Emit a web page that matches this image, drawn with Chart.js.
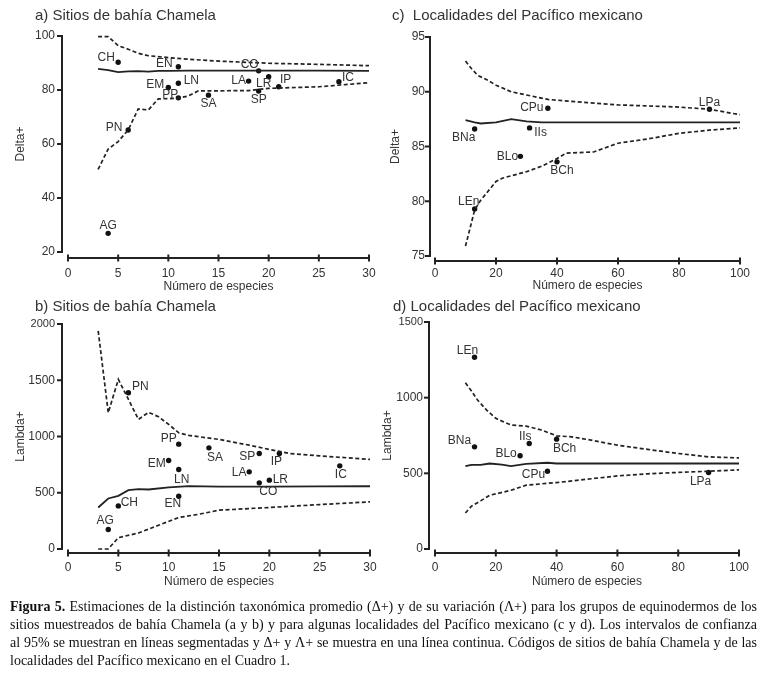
<!DOCTYPE html>
<html>
<head>
<meta charset="utf-8">
<script src="https://cdn.jsdelivr.net/npm/chart.js@4.4.1/dist/chart.umd.min.js"></script>
<style>
html,body{margin:0;padding:0;background:#fff;width:761px;height:680px;overflow:hidden;}
.panel{position:absolute;}
#caption{position:absolute;left:10px;top:598px;width:747px;font-family:"Liberation Serif","Times New Roman",serif;font-size:14px;line-height:18px;color:#111;}
#caption span{display:block;white-space:nowrap;text-align:justify;text-align-last:justify;}
#caption span.last{text-align:left;text-align-last:left;}
</style>
</head>
<body>
<div class="panel" style="left:0;top:0"><canvas id="ca" width="380" height="300"></canvas></div>
<div class="panel" style="left:380px;top:0"><canvas id="cc" width="381" height="300"></canvas></div>
<div class="panel" style="left:0;top:290px"><canvas id="cb" width="380" height="310"></canvas></div>
<div class="panel" style="left:380px;top:290px"><canvas id="cd" width="381" height="310"></canvas></div>
<div id="caption"><span><b>Figura 5.</b> Estimaciones de la distinción taxonómica promedio (Δ+) y de su variación (Λ+) para los grupos de equinodermos de los</span><span>sitios muestreados de bahía Chamela (a y b) y para algunas localidades del Pacífico mexicano (c y d). Los intervalos de confianza</span><span>al 95% se muestran en líneas segmentadas y Δ+ y Λ+ se muestra en una línea continua. Códigos de sitios de bahía Chamela y de las</span><span class="last">localidades del Pacífico mexicano en el Cuadro 1.</span></div>
<script>
// ---------- Panel a: Delta+ , sitios de bahía Chamela ----------
const sitesA   = ['CH','EN','CO','EM','LN','PP','SA','LA','LR','SP','IP','IC','PN','AG'];
const speciesA = [5, 11, 19, 10, 11, 11, 14, 18, 20, 19, 21, 27, 6, 4];
const deltaA   = [90.3, 88.6, 87.1, 80.9, 82.5, 77.1, 78.1, 83.3, 84.9, 79.6, 81.2, 83.1, 65.2, 26.9];
const meanXA   = [3, 4, 5, 6, 7, 8, 9, 10, 12, 15, 20, 25, 30];
const meanYA   = [87.8, 87.4, 86.6, 86.9, 87.0, 86.8, 87.1, 87.1, 87.2, 87.2, 87.2, 87.2, 87.1];
const upXA     = [3, 4, 5, 6, 7, 8, 10, 12, 15, 20, 25, 30];
const upYA     = [99.8, 99.8, 96.4, 95.1, 93.6, 92.7, 92.0, 91.4, 90.7, 89.9, 89.5, 89.0];
const loXA     = [3, 4, 5, 6, 7, 8, 9, 10, 11, 12, 13, 15, 18, 20, 25, 30];
const loYA     = [50.6, 58.1, 60.9, 65.2, 73.0, 72.6, 76.7, 76.8, 77.0, 77.8, 79.7, 79.7, 79.8, 80.6, 81.2, 82.7];
const xTicksA  = [0, 5, 10, 15, 20, 25, 30];
const yTicksA  = [20, 40, 60, 80, 100];

// ---------- Panel b: Lambda+ , sitios de bahía Chamela ----------
const sitesB   = ['PN','PP','SA','SP','IP','EM','LN','LA','LR','CO','IC','EN','CH','AG'];
const speciesB = [6, 11, 14, 19, 21, 10, 11, 18, 20, 19, 27, 11, 5, 4];
const lambdaB  = [1389, 932, 899, 849, 849, 787, 707, 686, 612, 588, 739, 469, 383, 173];
const meanXB   = [3, 4, 5, 6, 7, 8, 10, 12, 15, 20, 25, 30];
const meanYB   = [369, 449, 472, 523, 532, 529, 547, 558, 555, 555, 556, 558];
const upXB     = [3, 4, 5, 7, 8, 9, 10, 11, 12, 15, 18, 20, 22, 25, 30];
const upYB     = [1939, 1211, 1508, 1152, 1215, 1175, 1108, 1033, 1010, 974, 923, 885, 849, 828, 796];
const loXB     = [3, 4, 5, 7, 9, 11, 13, 15, 20, 25, 30];
const loYB     = [0, 0, 101, 142, 211, 280, 309, 345, 369, 395, 419];
const xTicksB  = [0, 5, 10, 15, 20, 25, 30];
const yTicksB  = [0, 500, 1000, 1500, 2000];

// ---------- Panel c: Delta+ , localidades del Pacífico mexicano ----------
const sitesC   = ['LPa','CPu','BNa','IIs','BLo','BCh','LEn'];
const speciesC = [90, 37, 13, 31, 28, 40, 13];
const deltaC   = [88.4, 88.5, 86.6, 86.7, 84.1, 83.6, 79.3];
const meanXC   = [10, 13, 15, 20, 25, 30, 35, 40, 60, 80, 100];
const meanYC   = [87.4, 87.2, 87.1, 87.2, 87.5, 87.3, 87.2, 87.2, 87.2, 87.2, 87.2];
const upXC     = [10, 12, 14, 17, 20, 25, 30, 37, 50, 60, 80, 90, 100];
const upYC     = [92.8, 92.1, 91.5, 91.1, 90.6, 90.0, 89.7, 89.3, 89.0, 88.8, 88.6, 88.4, 87.9];
const loXC     = [10, 13, 15, 20, 22, 30, 35, 40, 43, 52, 60, 70, 80, 90, 100];
const loYC     = [75.9, 79.2, 80.1, 81.8, 82.1, 82.7, 83.2, 83.9, 84.4, 84.5, 85.3, 85.7, 86.2, 86.5, 86.7];
const xTicksC  = [0, 20, 40, 60, 80, 100];
const yTicksC  = [75, 80, 85, 90, 95];

// ---------- Panel d: Lambda+ , localidades del Pacífico mexicano ----------
const sitesD   = ['LEn','BNa','IIs','BLo','BCh','CPu','LPa'];
const speciesD = [13, 13, 31, 28, 40, 37, 90];
const lambdaD  = [1267, 675, 697, 616, 726, 514, 506];
const meanXD   = [10, 12, 15, 18, 22, 25, 30, 37, 40, 60, 100];
const meanYD   = [547, 556, 556, 565, 558, 548, 562, 570, 565, 565, 565];
const upXD     = [10, 12, 14, 17, 20, 25, 30, 35, 40, 45, 50, 60, 70, 80, 90, 100];
const upYD     = [1099, 1044, 984, 918, 863, 819, 812, 786, 748, 741, 724, 686, 658, 631, 609, 602];
const loXD     = [10, 12, 15, 18, 25, 30, 40, 50, 60, 70, 80, 90, 100];
const loYD     = [238, 283, 318, 355, 388, 422, 439, 461, 483, 497, 506, 514, 523];
const xTicksD  = [0, 20, 40, 60, 80, 100];
const yTicksD  = [0, 500, 1000, 1500];

// ---------- label placement (style, pixel offsets from each dot) ----------
const labelOffA = [[-12,-5],[-14,-3],[-9,-6],[-13,-3],[13,-3],[-8,-3],[0,9],[-10,0],[-5,7],[0,9],[7,-7],[9,-4],[-14,-2],[0,-8]];
const labelOffB = [[12,-6],[-10,-5],[6,10],[-12,3],[-3,8],[-12,3],[3,10],[-10,1],[11,0],[9,9],[1,9],[-6,7],[11,-3],[-3,-9]];
const labelOffC = [[0,-7],[-16,0],[-11,9],[11,5],[-13,0],[5,9],[-6,-7]];
const labelOffD = [[-7,-7],[-15,-6],[-4,-7],[-14,-2],[8,10],[-14,3],[-8,9]];

const FONT = '"Liberation Sans", Arial, Helvetica, sans-serif';
const INK = '#222';
const TXT = '#333';

const zip = (xs, ys) => xs.map((v, i) => ({x: v, y: ys[i]}));

const panelPlugin = {
  id: 'panelDecor',
  afterDraw(chart, args, o) {
    const {ctx, chartArea, scales} = chart;
    const x = scales.x, y = scales.y;
    const ax = chartArea.left - o.yGap;
    const ay = chartArea.bottom + o.xGap;
    ctx.save();
    ctx.strokeStyle = INK;
    ctx.lineWidth = 2;
    ctx.lineCap = 'butt';
    // y axis
    ctx.beginPath();
    ctx.moveTo(ax, y.getPixelForValue(y.max) - 1);
    ctx.lineTo(ax, y.getPixelForValue(y.min) + 1);
    ctx.stroke();
    y.ticks.forEach(t => {
      const py = y.getPixelForValue(t.value);
      ctx.beginPath(); ctx.moveTo(ax - 5, py); ctx.lineTo(ax, py); ctx.stroke();
    });
    // x axis
    ctx.beginPath();
    ctx.moveTo(x.getPixelForValue(x.min), ay);
    ctx.lineTo(x.getPixelForValue(x.max), ay);
    ctx.stroke();
    x.ticks.forEach(t => {
      const px = x.getPixelForValue(t.value);
      ctx.beginPath(); ctx.moveTo(px, ay - 3.5); ctx.lineTo(px, ay + 3.5); ctx.stroke();
    });
    // panel title
    ctx.fillStyle = TXT;
    ctx.font = '15px ' + FONT;
    ctx.textAlign = 'left';
    ctx.textBaseline = 'middle';
    ctx.fillText(o.title, o.titleX, o.titleY);
    // point labels
    const ds = chart.data.datasets[3];
    const meta = chart.getDatasetMeta(3);
    ctx.font = '12px ' + FONT;
    ctx.textAlign = 'center';
    meta.data.forEach((el, i) => {
      const off = ds.labelOffsets[i];
      ctx.fillText(ds.pointLabels[i], el.x + off[0], el.y + off[1]);
    });
    ctx.restore();
  }
};

function buildPanel(id, d, L) {
  const lineDs = (data, dashed) => ({
    type: 'scatter', data, showLine: true, borderColor: INK, borderWidth: dashed ? 1.7 : 1.8,
    borderDash: dashed ? [4, 2.5] : [], pointRadius: 0, tension: 0, clip: false, fill: false
  });
  return new Chart(document.getElementById(id), {
    type: 'scatter',
    data: {
      datasets: [
        lineDs(zip(d.meanX, d.meanY), false),
        lineDs(zip(d.upX, d.upY), true),
        lineDs(zip(d.loX, d.loY), true),
        {
          type: 'scatter', data: zip(d.px, d.py), pointRadius: 2.7, pointBackgroundColor: '#111',
          pointBorderWidth: 0, showLine: false, clip: false,
          pointLabels: d.names, labelOffsets: d.offsets
        }
      ]
    },
    options: {
      responsive: false, animation: false, devicePixelRatio: 1,
      layout: {padding: L.pad},
      plugins: {
        legend: {display: false}, tooltip: {enabled: false}, title: {display: false},
        panelDecor: {title: L.title, titleX: L.titleX, titleY: L.titleY, xGap: L.xGap, yGap: L.yGap}
      },
      scales: {
        x: {
          type: 'linear', position: 'bottom', min: d.xTicks[0], max: d.xTicks[d.xTicks.length - 1],
          afterBuildTicks: s => { s.ticks = d.xTicks.map(v => ({value: v})); },
          afterFit: s => { s.height = L.xH; s.paddingLeft = 0; s.paddingRight = 0; },
          grid: {display: false, drawTicks: false, tickLength: 0}, border: {display: false},
          ticks: {padding: L.xTickPad, maxRotation: 0, autoSkip: false, color: TXT, font: {family: FONT, size: 12}, callback: v => String(v)},
          title: {display: true, text: 'Número de especies', color: TXT, font: {family: FONT, size: 12}, padding: {top: 0, bottom: L.xTitlePad}}
        },
        y: {
          type: 'linear', position: 'left', min: d.yTicks[0], max: d.yTicks[d.yTicks.length - 1],
          afterBuildTicks: s => { s.ticks = d.yTicks.map(v => ({value: v})); },
          afterFit: s => { s.width = L.yW; s.paddingTop = 0; s.paddingBottom = 0; },
          grid: {display: false, drawTicks: false, tickLength: 0}, border: {display: false},
          ticks: {padding: L.yTickPad, autoSkip: false, color: TXT,
                  font: c => ({family: FONT, size: (c.tick && c.tick.value === d.yTicks[d.yTicks.length - 1] && d.yTicks[d.yTicks.length - 1] >= 1000) ? 11 : 12}),
                  callback: v => String(v)},
          title: {display: true, text: d.yTitle, color: TXT, font: {family: FONT, size: 12}, padding: {top: L.yTitlePad, bottom: 0}}
        }
      }
    },
    plugins: [panelPlugin]
  });
}

buildPanel('ca',
  {px: speciesA, py: deltaA, names: sitesA, offsets: labelOffA, meanX: meanXA, meanY: meanYA, upX: upXA, upY: upYA, loX: loXA, loY: loYA, xTicks: xTicksA, yTicks: yTicksA, yTitle: 'Delta+'},
  {pad: {left: 0, top: 36, right: 11, bottom: 0}, yW: 68, xH: 48, yGap: 6, xGap: 6, yTickPad: 13, xTickPad: 14, yTitlePad: 13, xTitlePad: 6, title: 'a) Sitios de bahía Chamela', titleX: 35, titleY: 16});

buildPanel('cc',
  {px: speciesC, py: deltaC, names: sitesC, offsets: labelOffC, meanX: meanXC, meanY: meanYC, upX: upXC, upY: upYC, loX: loXC, loY: loYC, xTicks: xTicksC, yTicks: yTicksC, yTitle: 'Delta+'},
  {pad: {left: 0, top: 37, right: 21, bottom: 0}, yW: 55, xH: 44, yGap: 5, xGap: 5, yTickPad: 10, xTickPad: 10, yTitlePad: 8, xTitlePad: 7, title: 'c)  Localidades del Pacífico mexicano', titleX: 12, titleY: 16});

buildPanel('cb',
  {px: speciesB, py: lambdaB, names: sitesB, offsets: labelOffB, meanX: meanXB, meanY: meanYB, upX: upXB, upY: upYB, loX: loXB, loY: loYB, xTicks: xTicksB, yTicks: yTicksB, yTitle: 'Lambda+'},
  {pad: {left: 0, top: 34, right: 10, bottom: 0}, yW: 68, xH: 51, yGap: 6, xGap: 4, yTickPad: 13, xTickPad: 11, yTitlePad: 13, xTitlePad: 11, title: 'b) Sitios de bahía Chamela', titleX: 35, titleY: 17});

buildPanel('cd',
  {px: speciesD, py: lambdaD, names: sitesD, offsets: labelOffD, meanX: meanXD, meanY: meanYD, upX: upXD, upY: upYD, loX: loXD, loY: loYD, xTicks: xTicksD, yTicks: yTicksD, yTitle: 'Lambda+'},
  {pad: {left: 0, top: 32, right: 22, bottom: 0}, yW: 55, xH: 51, yGap: 6, xGap: 4, yTickPad: 12, xTickPad: 11, yTitlePad: 0, xTitlePad: 11, title: 'd) Localidades del Pacífico mexicano', titleX: 13, titleY: 17});
</script>
</body>
</html>
